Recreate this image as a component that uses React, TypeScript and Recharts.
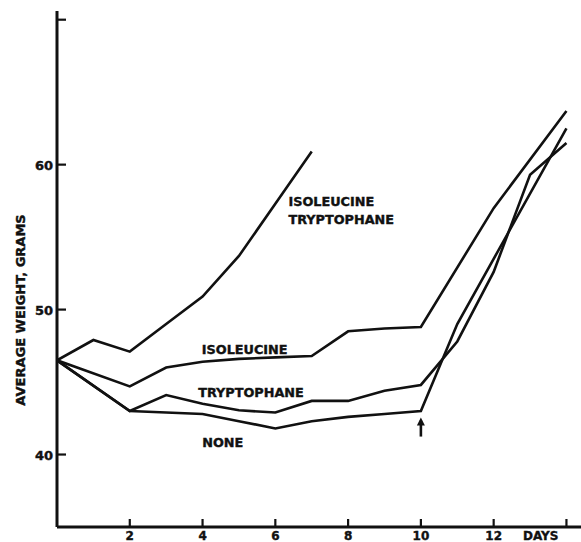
import React from 'react';
import {
  LineChart,
  Line,
  XAxis,
  YAxis,
  ReferenceDot,
} from 'recharts';

const days = [0, 1, 2, 3, 4, 5, 6, 7, 8, 9, 10, 11, 12, 13, 14];

const isoTryp = [46.5, 47.9, 47.1, 49.0, 50.9, 53.7, 57.3, 60.9, null, null, null, null, null, null, null];
const isoleucine = [46.5, null, 44.7, 46.0, 46.4, 46.6, 46.7, 46.8, 48.5, 48.7, 48.8, null, 57.0, null, 63.7];
const tryptophane = [46.5, null, 43.0, 44.1, 43.5, 43.05, 42.9, 43.7, 43.7, 44.4, 44.8, 47.8, 52.6, 59.3, 61.5];
const none = [46.5, null, 43.0, 42.9, 42.8, 42.3, 41.8, 42.3, 42.6, 42.8, 43.0, 49.0, null, null, 62.5];

const xTicks = [2, 4, 6, 8, 10, 12, 14];
const yTicks = [40, 50, 60, 70];
const yTickLabels: Record<number, string> = { 40: '40', 50: '50', 60: '60', 70: '' };

const data = days.map((d, i) => ({
  day: d,
  isoTryp: isoTryp[i],
  isoleucine: isoleucine[i],
  tryptophane: tryptophane[i],
  none: none[i],
}));

const ink = '#111';
const font = '"DejaVu Sans", sans-serif';
const textProps = {
  fontFamily: font,
  fontWeight: 'bold' as const,
  fill: ink,
  stroke: ink,
  strokeWidth: 0.4,
};

const XTick = (props: any) => {
  const { x, y, payload } = props;
  const last = payload.value === 14;
  return (
    <g>
      <line x1={x} x2={x} y1={y} y2={y - 8} stroke={ink} strokeWidth={2.2} />
      <text
        x={last ? x - 8 : x}
        y={y + 13}
        textAnchor={last ? 'end' : 'middle'}
        fontSize={12}
        {...textProps}
      >
        {last ? 'DAYS' : payload.value}
      </text>
    </g>
  );
};

const YTick = (props: any) => {
  const { x, y, payload } = props;
  return (
    <g>
      <line x1={x} x2={x + 9} y1={y} y2={y} stroke={ink} strokeWidth={2.2} />
      <text x={x - 4} y={y + 5} textAnchor="end" fontSize={13} {...textProps}>
        {yTickLabels[payload.value]}
      </text>
    </g>
  );
};

const labelShape = (lines: string[]) => (p: any) => (
  <text x={p.cx} y={p.cy} fontSize={12.8} {...textProps}>
    {lines.map((t, i) => (
      <tspan key={t} x={p.cx} dy={i === 0 ? 4.5 : 18}>
        {t}
      </tspan>
    ))}
  </text>
);

const arrowShape = (p: any) => (
  <g>
    <line x1={p.cx} x2={p.cx} y1={p.cy + 3} y2={p.cy + 19} stroke={ink} strokeWidth={2.6} />
    <polygon points={`${p.cx},${p.cy} ${p.cx - 4},${p.cy + 8} ${p.cx + 4},${p.cy + 8}`} fill={ink} />
  </g>
);

export default function App() {
  return (
    <div style={{ position: 'absolute', left: 0, top: 0, background: '#fff' }}>
      <LineChart
        width={581}
        height={542}
        data={data}
        margin={{ top: 11, right: 0, bottom: 0, left: 0 }}
      >
        <XAxis
          dataKey="day"
          type="number"
          domain={[0, 14.4]}
          ticks={xTicks}
          interval={0}
          height={15}
          tickSize={0}
          tickMargin={0}
          tick={<XTick />}
          axisLine={{ stroke: ink, strokeWidth: 3 }}
          allowDataOverflow
        />
        <YAxis
          type="number"
          domain={[35, 70.6]}
          ticks={yTicks}
          interval={0}
          width={57}
          tickSize={0}
          tickMargin={0}
          tick={<YTick />}
          axisLine={{ stroke: ink, strokeWidth: 3 }}
          allowDataOverflow
          label={{
            content: () => (
              <text
                x={25}
                y={310}
                transform="rotate(-90 25 310)"
                textAnchor="middle"
                fontSize={13}
                {...textProps}
              >
                AVERAGE WEIGHT, GRAMS
              </text>
            ),
          }}
        />
        <Line dataKey="isoTryp" stroke={ink} strokeWidth={2.6} dot={false} connectNulls isAnimationActive={false} />
        <Line dataKey="isoleucine" stroke={ink} strokeWidth={2.6} dot={false} connectNulls isAnimationActive={false} />
        <Line dataKey="tryptophane" stroke={ink} strokeWidth={2.6} dot={false} connectNulls isAnimationActive={false} />
        <Line dataKey="none" stroke={ink} strokeWidth={2.6} dot={false} connectNulls isAnimationActive={false} />
        <ReferenceDot x={6.36} y={57.45} r={0} shape={labelShape(['ISOLEUCINE', 'TRYPTOPHANE'])} />
        <ReferenceDot x={3.98} y={47.24} r={0} shape={labelShape(['ISOLEUCINE'])} />
        <ReferenceDot x={3.88} y={44.28} r={0} shape={labelShape(['TRYPTOPHANE'])} />
        <ReferenceDot x={3.99} y={40.83} r={0} shape={labelShape(['NONE'])} />
        <ReferenceDot x={10} y={42.55} r={0} shape={arrowShape} />
      </LineChart>
    </div>
  );
}
